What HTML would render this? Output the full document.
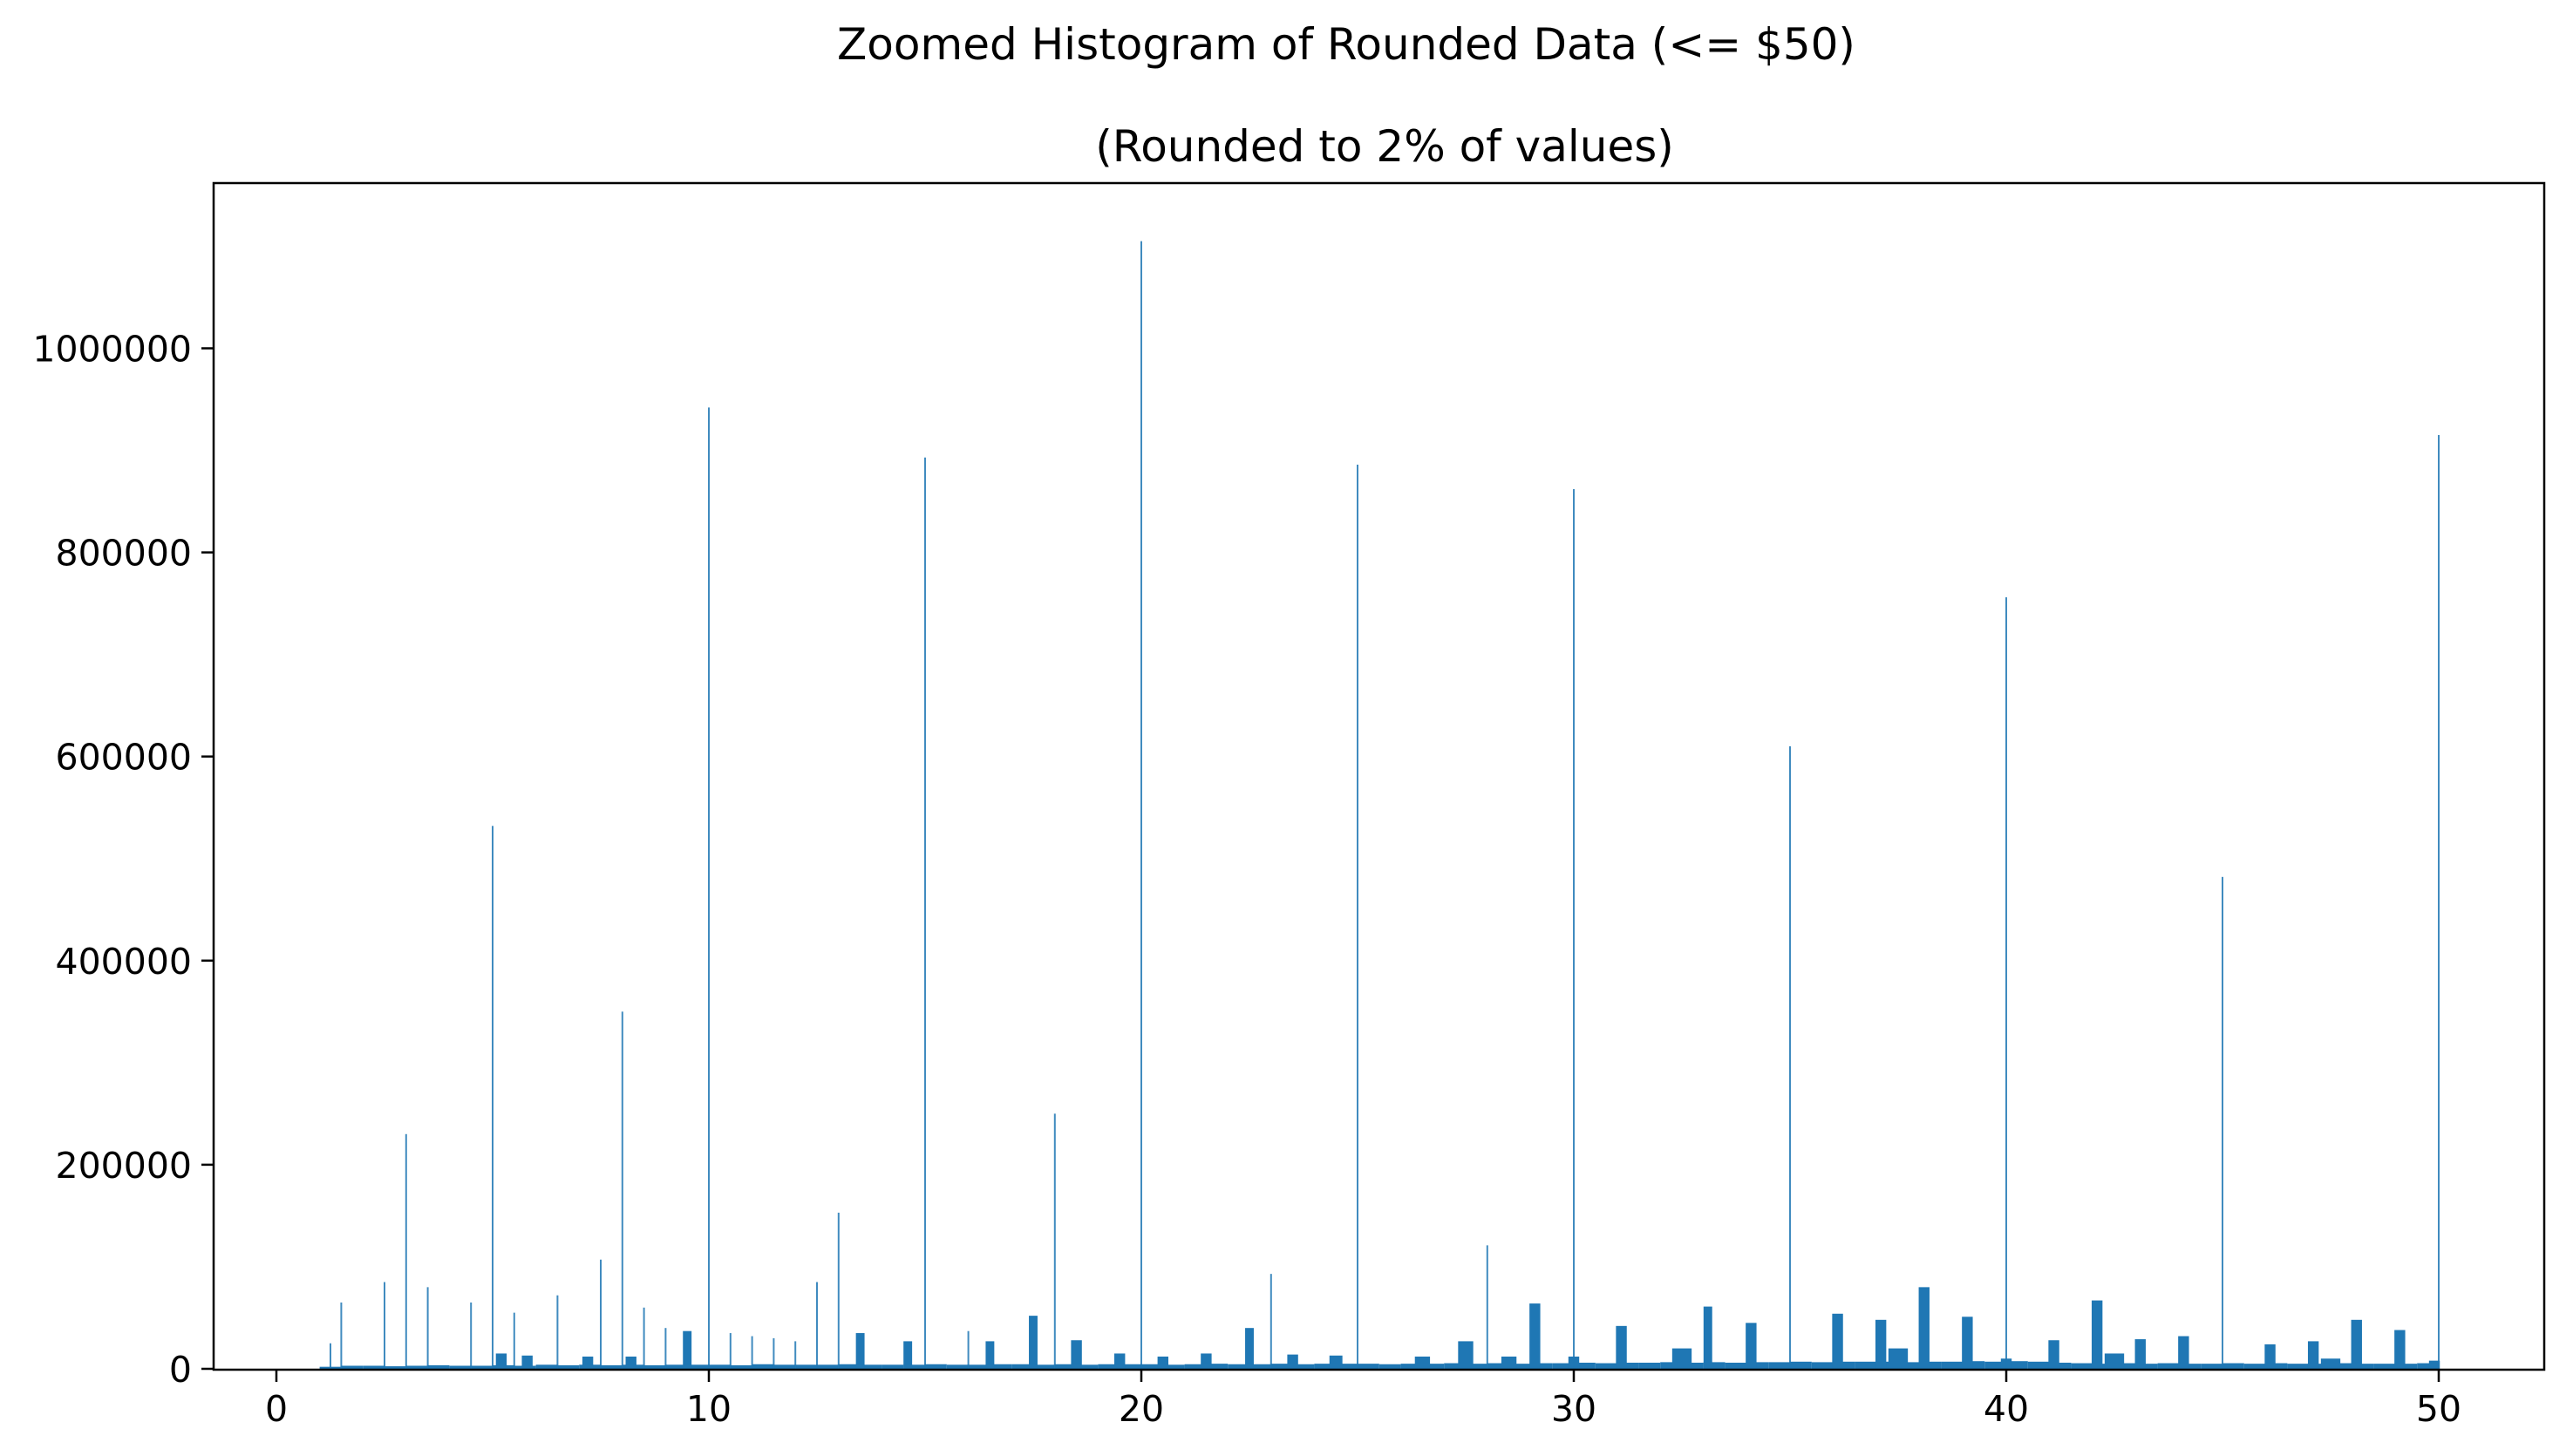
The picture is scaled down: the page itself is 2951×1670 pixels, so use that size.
<!DOCTYPE html>
<html><head><meta charset="utf-8"><style>
html,body{margin:0;padding:0;background:#fff;}
svg{display:block;font-family:"DejaVu Sans","Liberation Sans",sans-serif;}
</style></head><body>
<svg id="chart" width="2951" height="1670" viewBox="0 0 2951 1670" xmlns="http://www.w3.org/2000/svg">
<rect width="2951" height="1670" fill="#fff"/>
<text x="1544" y="68" font-size="50" text-anchor="middle" fill="#000">Zoomed Histogram of Rounded Data (&lt;= $50)</text>
<text x="1588" y="185" font-size="50" text-anchor="middle" fill="#000">(Rounded to 2% of values)</text>
<g id="marks"></g>
<g id="axes"></g>
</svg>
<script>
const xTicks=[0,10,20,30,40,50];
const yTicks=[0,200000,400000,600000,800000,1000000];
const yTickLabels=["0","200000","400000","600000","800000","1000000"];
// tall thin spikes (value, count)
const spikeX=[1.25,1.5,2.5,3,3.5,4.5,5,5.5,6.5,7.5,8,8.5,9,10,10.5,11,11.5,12,12.5,13,15,16,18,20,23,25,28,30,35,40,45,50];
const spikeY=[25000,65000,85000,230000,80000,65000,532000,55000,72000,107000,350000,60000,40000,942000,35000,32000,30000,27000,85000,153000,893000,37000,250000,1105000,93000,886000,121000,862000,610000,756000,482000,915000];
// thicker bars (center value, count)
const barX=[5.2,5.8,7.2,8.2,9.5,13.5,14.6,16.5,17.5,18.5,19.5,20.5,21.5,22.5,23.5,24.5,26.5,27.5,28.5,29.1,30,31.1,32.5,33.1,34.1,36.1,37.1,37.5,38.1,39.1,40,41.1,42.1,42.5,43.1,44.1,46.1,47.1,47.5,48.1,49.1,49.9];
const barY=[15000,13000,12000,12000,37000,35000,27000,27000,52000,28000,15000,12000,15000,40000,14000,13000,12000,27000,12000,64000,12000,42000,20000,61000,45000,54000,48000,20000,80000,51000,10000,28000,67000,15000,29000,32000,24000,27000,10000,48000,38000,8000];
const barW=[0.25,0.25,0.25,0.25,0.2,0.2,0.2,0.2,0.2,0.25,0.25,0.25,0.25,0.2,0.25,0.3,0.35,0.35,0.35,0.25,0.25,0.25,0.45,0.2,0.25,0.25,0.25,0.45,0.25,0.25,0.25,0.25,0.25,0.45,0.25,0.25,0.25,0.25,0.45,0.25,0.25,0.25];
// low background counts per half-unit bin from 1.0
const baseY=[2000,3000,3000,2500,3000,3500,3000,3000,3500,3000,4000,3500,4000,3500,4000,3500,4000,4000,4000,3500,4500,4000,4000,4000,4500,4000,4000,4000,4500,4000,4000,4500,4500,4000,4500,4000,4500,4500,4500,4000,4500,5000,4500,4500,5000,4500,5000,5000,5000,4500,5000,5000,5500,5000,5500,5000,5500,5500,6000,5500,6000,6000,6500,6000,6500,6000,6500,6500,7000,6500,7000,7000,7000,6500,7000,7000,7500,7000,7500,7000,6000,5500,5000,5500,5000,5500,5000,5000,5500,5000,5500,5000,5000,5500,5000,5000,5000,5500];
const X0=317,X50=2797,Y0=1570,YM=1571-1171.5;
const sx=v=>X0+(X50-X0)*v/50;
const sy=v=>Y0-(Y0-YM)*v/1000000;
const NS="http://www.w3.org/2000/svg";
const marks=document.getElementById('marks'), axes=document.getElementById('axes');
function mk(tag,attrs,parent){const e=document.createElementNS(NS,tag);for(const k in attrs)e.setAttribute(k,attrs[k]);parent.appendChild(e);return e;}
baseY.forEach((v,i)=>{
 const x=1+i*0.5;
 const r=mk('rect',{x:sx(x),y:sy(v),width:sx(x+0.5)-sx(x),height:Y0-sy(v),fill:'#1f77b4'},marks);
 
 
});
barX.forEach((v,i)=>{
 const w=barW[i];
 const r=mk('rect',{x:sx(v-w/2),y:sy(barY[i]),width:sx(w)-sx(0),height:Y0-sy(barY[i]),fill:'#1f77b4'},marks);
 
 
});
spikeX.forEach((v,i)=>{
 const r=mk('rect',{x:sx(v)-1,y:sy(spikeY[i]),width:2,height:Y0-sy(spikeY[i]),fill:'#1f77b4',opacity:0.85},marks);
 
 
});
const fr=mk('rect',{x:245,y:210,width:2918-245,height:1571-210,fill:'none',stroke:'#000','stroke-width':2.5},axes);


xTicks.forEach(t=>{
 const l=mk('line',{x1:sx(t),x2:sx(t),y1:1571,y2:1585,stroke:'#000','stroke-width':2.5},axes);
 
 
 const tx=mk('text',{x:sx(t),y:1630,'font-size':'41','text-anchor':'middle',fill:'#000'},axes);
 tx.textContent=String(t);
 
 
});
yTicks.forEach((t,i)=>{
 const l=mk('line',{x1:231,x2:245,y1:sy(t),y2:sy(t),stroke:'#000','stroke-width':2.5},axes);
 
 
 const tx=mk('text',{x:220,y:sy(t)+15,'font-size':'41','text-anchor':'end',fill:'#000'},axes);
 tx.textContent=yTickLabels[i];
 
 
});
</script>
</body></html>
